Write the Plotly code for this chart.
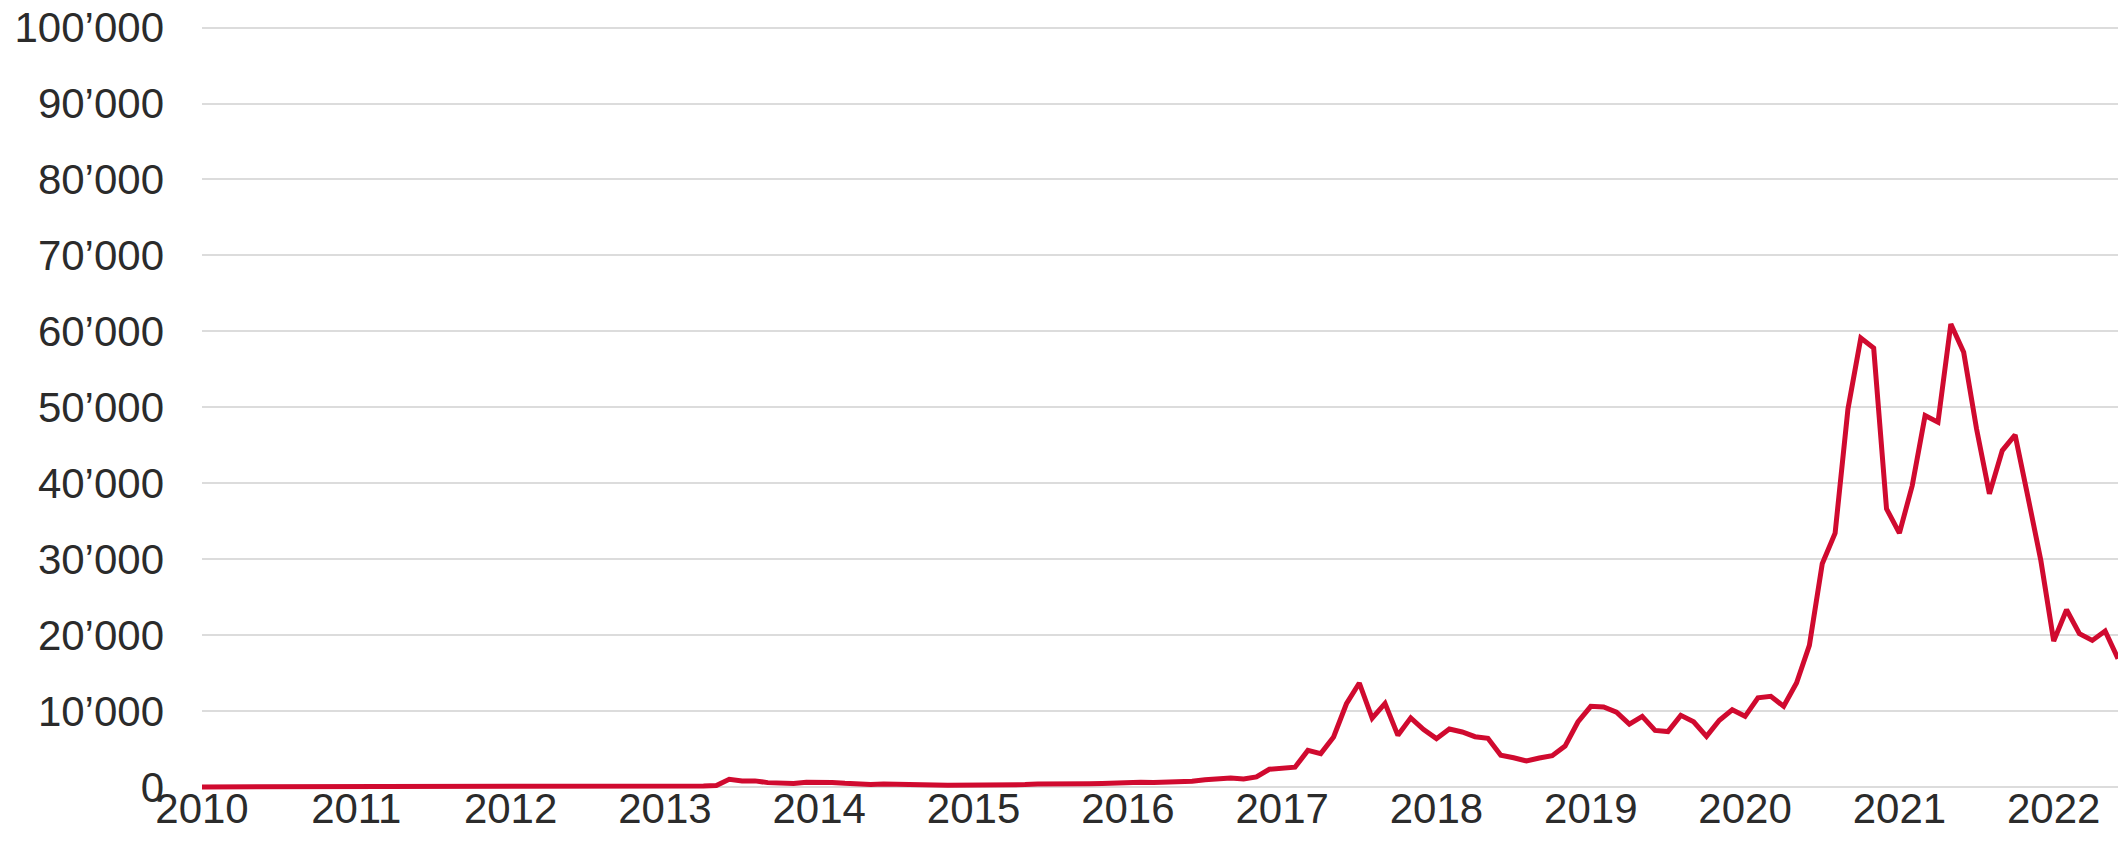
import plotly.graph_objects as go
import pandas as pd

# Monthly closing prices, Jun 2010 .. Nov 2022 (150 months)
months = [d.strftime("%Y-%m") for d in pd.date_range("2010-06-01", periods=150, freq="MS")]

prices_2010 = [0.1, 0.1, 0.1, 0.1, 0.2, 0.2, 0.3]
prices_2011 = [0.5, 0.9, 0.8, 3.5, 8.7, 16, 13, 8, 5, 3, 3, 5]
prices_2012 = [5, 5, 5, 5, 5, 7, 9, 10, 12, 11, 13, 13]
prices_2013 = [20, 33, 93, 140, 130, 97, 106, 135, 133, 200, 1010, 800]
prices_2014 = [800, 570, 460, 450, 630, 640, 590, 480, 390, 340, 380, 320]
prices_2015 = [220, 250, 245, 235, 230, 265, 285, 230, 235, 315, 380, 430]
prices_2016 = [370, 440, 415, 450, 530, 670, 625, 575, 610, 700, 740, 960]
prices_2017 = [1010, 1180, 1060, 1320, 2330, 2400, 2600, 4820, 4390, 6580, 10960, 13690]
prices_2018 = [9050, 11000, 6800, 9100, 7550, 6360, 7640, 7240, 6620, 6400, 4170, 3840]
prices_2019 = [3420, 3820, 4120, 5380, 8560, 10620, 10530, 9850, 8280, 9300, 7450, 7300]
prices_2020 = [9430, 8580, 6660, 8780, 10170, 9300, 11750, 11930, 10620, 13690, 18640, 29390]
prices_2021 = [33420, 49780, 59120, 57810, 36620, 33420, 39690, 48900, 48030, 60970, 57240, 47150]
prices_2022 = [38600, 44300, 46360, 38160, 29820, 19210, 23330, 20180, 19300, 20530, 16890]

prices = (prices_2010 + prices_2011 + prices_2012 + prices_2013 + prices_2014 +
          prices_2015 + prices_2016 + prices_2017 + prices_2018 + prices_2019 +
          prices_2020 + prices_2021 + prices_2022)

year_labels = [str(y) for y in range(2010, 2023)]
year_tick_positions = [months[i] for i in range(0, 150, 12)]
y_ticks = list(range(0, 100001, 10000))

fig = go.Figure()
fig.add_trace(go.Scatter(
    x=months, y=prices, mode="lines",
    line=dict(color="#d00a2f", width=5),
    hoverinfo="skip",
))

font_family = "Liberation Sans, Arial, Helvetica, sans-serif"
fig.update_layout(
    template="none",
    width=2118, height=858,
    margin=dict(l=202, r=0, t=20, b=68, autoexpand=False),
    paper_bgcolor="white", plot_bgcolor="white",
    showlegend=False,
    separators=".’",
    font=dict(family=font_family, size=42, color="#2b2b2b"),
)
fig.update_xaxes(
    type="category",
    automargin=False,
    range=[0, len(months) - 1],
    tickmode="array", tickvals=year_tick_positions, ticktext=year_labels,
    showgrid=False, showline=False, ticks="", zeroline=False,
    tickfont=dict(size=42, color="#2b2b2b"),
    ticklabelstandoff=-10,
    ticklabeloverflow="allow",
)
fig.update_yaxes(
    automargin=False,
    range=[-400, 101000],
    tickmode="array", tickvals=y_ticks,
    tickformat=",d", exponentformat="none",
    showgrid=True, gridcolor="#dcdcdc", gridwidth=1.5,
    zeroline=False, showline=False, ticks="",
    tickfont=dict(size=42, color="#2b2b2b"),
    ticklabelstandoff=37,
    ticklabeloverflow="allow",
)

# remove the browser's default 8px body margin so the figure fills the window
fig.write_html(
    "out.html",
    config={"displayModeBar": False},
    post_script="document.body.style.margin='0';document.body.style.overflow='hidden';",
)
